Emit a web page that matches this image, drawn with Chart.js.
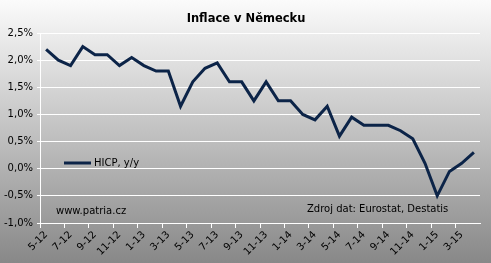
<!DOCTYPE html>
<html>
<head>
<meta charset="utf-8">
<script src="https://cdn.jsdelivr.net/npm/chart.js@4/dist/chart.umd.min.js"></script>
<style>
  html, body { margin: 0; padding: 0; background: #fff; }
  #wrap { width: 491px; height: 263px; position: relative; }
</style>
</head>
<body>
<div id="wrap"><canvas id="graf"></canvas></div>
<script>
// mesice (M-RR), kazdy druhy se popisuje na ose
const mesice = [
  '5-12','6-12','7-12','8-12','9-12','10-12','11-12','12-12',
  '1-13','2-13','3-13','4-13','5-13','6-13','7-13','8-13','9-13','10-13','11-13','12-13',
  '1-14','2-14','3-14','4-14','5-14','6-14','7-14','8-14','9-14','10-14','11-14','12-14',
  '1-15','2-15','3-15','4-15'
];

// HICP y/y v %
const hicp = [
  2.2, 2.0, 1.9, 2.25, 2.1, 2.1, 1.9, 2.05,
  1.9, 1.8, 1.8, 1.15, 1.6, 1.85, 1.95, 1.6, 1.6, 1.25, 1.6, 1.25,
  1.25, 1.0, 0.9, 1.15, 0.6, 0.95, 0.8, 0.8, 0.8, 0.7, 0.55, 0.1,
  -0.5, -0.05, 0.1, 0.3
];

const popisekRady = 'HICP, y/y';
const titulek = 'Inflace v Německu';
const zdroj = 'Zdroj dat: Eurostat, Destatis';
const web = 'www.patria.cz';

const barvaCary = '#0c2448';
const pismo = '"DejaVu Sans", Verdana, sans-serif';

// pozadi s prechodem + texty
const kresleni = {
  id: 'kresleni',
  beforeDraw(chart) {
    const c = chart.ctx;
    const g = c.createLinearGradient(0, 0, 0, chart.height);
    g.addColorStop(0, '#fbfbfb');
    g.addColorStop(1, '#888888');
    c.save();
    c.fillStyle = g;
    c.fillRect(0, 0, chart.width, chart.height);
    c.restore();
  },
  afterDraw(chart) {
    const c = chart.ctx;
    c.save();
    c.fillStyle = '#000';
    c.font = 'bold 11.5px ' + pismo;
    c.textAlign = 'center';
    c.textBaseline = 'middle';
    c.fillText(titulek, 246, 19);

    // legenda
    c.strokeStyle = barvaCary;
    c.lineWidth = 3;
    c.beginPath();
    c.moveTo(64, 163);
    c.lineTo(91, 163);
    c.stroke();
    c.font = '10px ' + pismo;
    c.textAlign = 'left';
    c.fillText(popisekRady, 94, 163);

    c.fillText(web, 56, 211);
    c.fillText(zdroj, 307, 209);
    c.restore();
  }
};

new Chart(document.getElementById('graf'), {
  type: 'line',
  data: {
    labels: mesice,
    datasets: [{
      label: popisekRady,
      data: hicp,
      borderColor: barvaCary,
      borderWidth: 3,
      pointRadius: 0,
      tension: 0,
      fill: false
    }]
  },
  options: {
    responsive: true,
    maintainAspectRatio: false,
    animation: false,
    layout: { padding: { top: 33, right: 11, left: 0, bottom: 0 } },
    plugins: {
      legend: { display: false },
      title: { display: false },
      tooltip: { enabled: false }
    },
    scales: {
      x: {
        offset: true,
        afterFit: (s) => { s.height = 40; },
        grid: {
          offset: true,
          drawOnChartArea: false,
          color: (ctx) => (ctx.index % 2 === 0 ? '#ffffff' : 'rgba(0,0,0,0)'),
          tickLength: 5
        },
        border: { color: '#ffffff', width: 1 },
        ticks: {
          autoSkip: false,
          maxRotation: 45,
          minRotation: 45,
          padding: 1,
          color: '#000',
          font: { family: pismo, size: 10 },
          callback: function (v, i) { return i % 2 === 0 ? this.getLabelForValue(v) : ''; }
        }
      },
      y: {
        min: -1,
        max: 2.5,
        afterFit: (s) => { s.width = 40; },
        grid: { color: '#ffffff', lineWidth: 1, tickLength: 3 },
        border: { color: '#ffffff', width: 1 },
        ticks: {
          stepSize: 0.5,
          padding: 4,
          color: '#000',
          font: { family: pismo, size: 10 },
          callback: (v) => v.toFixed(1).replace('.', ',') + '%'
        }
      }
    }
  },
  plugins: [kresleni]
});
</script>
</body>
</html>
